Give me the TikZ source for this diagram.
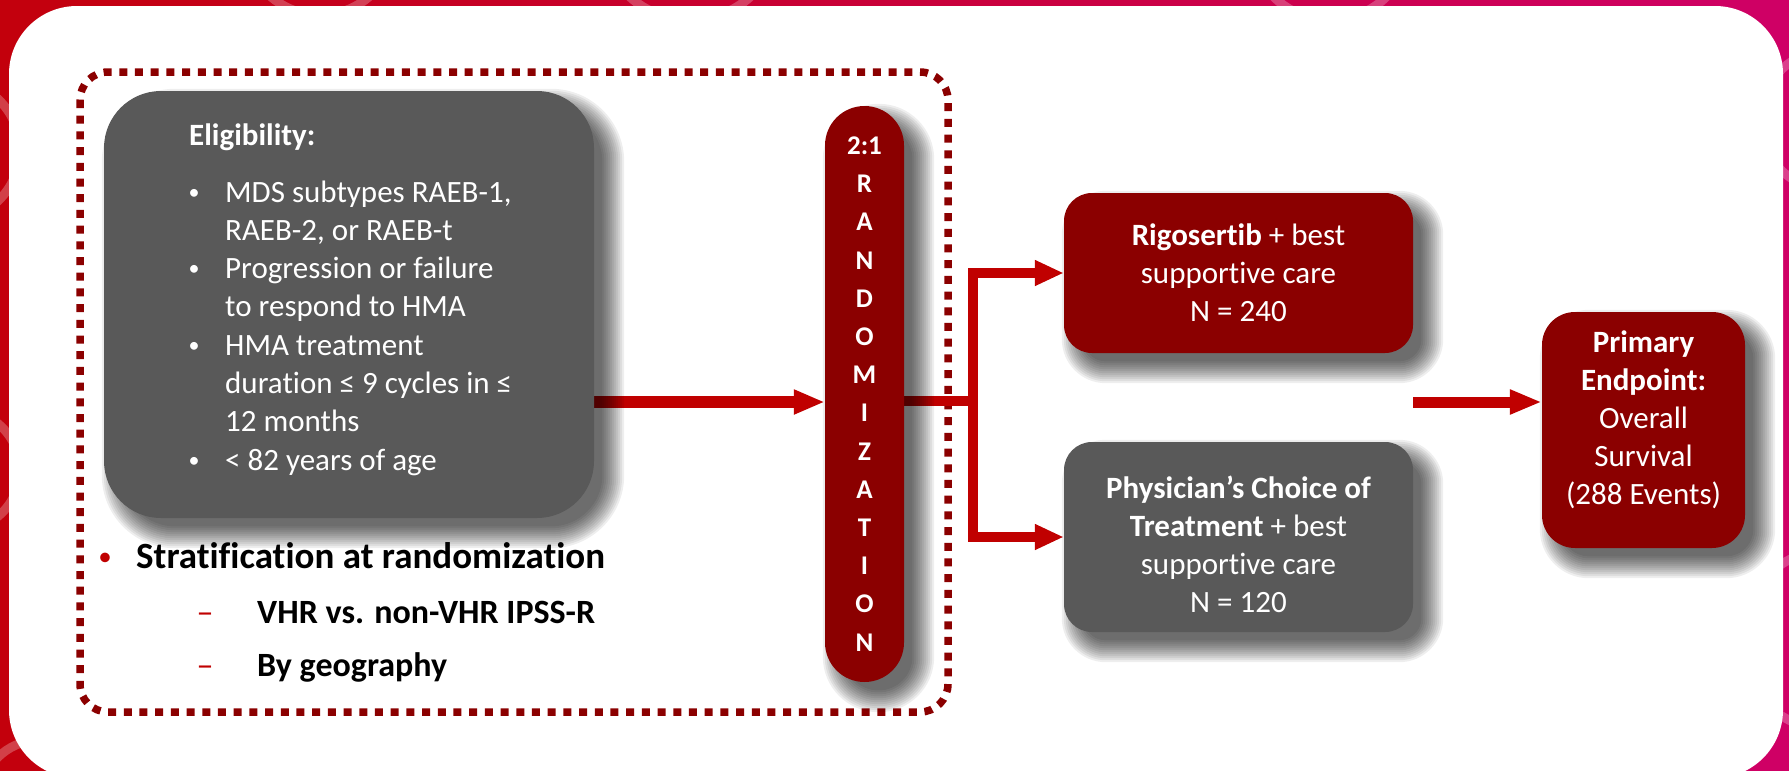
\documentclass[tikz,border=0pt]{standalone}
\usepackage{fontspec}
\setmainfont{Carlito}[Ligatures=NoCommon]
\usetikzlibrary{arrows.meta,calc}
\definecolor{dred}{HTML}{8B0000}
\definecolor{ared}{HTML}{C00000}
\definecolor{bgray}{HTML}{595959}
\definecolor{bgL}{HTML}{C3000C}
\definecolor{bgR}{HTML}{CF0066}
\pgfdeclarelayer{back}
\pgfdeclarelayer{mid}
\pgfdeclarelayer{shad}
\pgfsetlayers{back,mid,shad,main}
\newcommand\boxshadow[2]{%
  \foreach \g in {-6,-4,...,16} {%
    \pgfmathsetmacro\rr{max(#2+\g,1)}%
    \fill[black,opacity=0.065,rounded corners=\rr pt]
      ($(#1.north west)+(14-\g,14-\g)$) rectangle ($(#1.south east)+(14+\g,14+\g)$);
  }%
}
\begin{document}
\begin{tikzpicture}[x=1pt,y=-1pt,
  graybox/.style={fill=bgray,inner sep=0pt},
  redbox/.style={fill=dred,inner sep=0pt},
  boxtxt/.style={text=white,align=center,inner sep=0pt,font=\fontsize{31}{38}\selectfont},
  elig/.style={text=white,anchor=base west,inner sep=0pt,font=\fontsize{31}{38}\selectfont},
  bul/.style={text=white,anchor=base,inner sep=0pt,font=\fontsize{22}{24}\selectfont},
  strat/.style={text=black,anchor=base west,inner sep=0pt},
  pill/.style={fill=dred,inner sep=0pt,minimum width=79pt,minimum height=576pt,
    rounded corners=39.5pt,text=white,align=center,font=\fontsize{27}{38.2}\selectfont\bfseries},
  bigarrow/.style={draw=ared,line width=12pt,-{Triangle[length=31pt,width=23pt]}},
  brline/.style={draw=ared,line width=10pt},
  brarrow/.style={draw=ared,line width=10pt,-{Triangle[length=29pt,width=24pt]}},
  ring/.style={draw=white,opacity=0.25,line width=9pt},
]
\useasboundingbox (0,0) rectangle (1789,771);
\begin{pgfonlayer}{back}
  \begin{scope}
  \clip (0,0) rectangle (1789,771);
  \shade[left color=bgL,right color=bgR] (0,0) rectangle (1789,771);
  \draw[ring] (320,-60) circle (75pt);
  \draw[ring] (690,-70) circle (90pt);
  \draw[ring] (1330,-60) circle (80pt);
  \draw[ring] (-50,150) circle (70pt);
  \draw[ring] (-40,470) circle (60pt);
  \draw[ring] (40,800) circle (60pt);
  \draw[ring] (1830,640) circle (90pt);
  \draw[ring] (1830,120) circle (70pt);
  \fill[white,rounded corners=68pt] (9,6) rectangle (1783,778);
  \end{scope}
  \draw[dred,line width=7.5pt,dash pattern=on 8pt off 7.7pt,rounded corners=28pt] (80,72) rectangle (948,712);
\end{pgfonlayer}

% boxes
\node[graybox,minimum width=490pt,minimum height=427pt,rounded corners=57pt] (elig) at (349,304.5) {};
\node[pill] (rz) at (864.5,394) {2:1\\R\\A\\N\\D\\O\\M\\I\\Z\\A\\T\\I\\O\\N};
\node[redbox,minimum width=349pt,minimum height=160pt,rounded corners=28pt] (rig) at (1238.5,273) {};
\node[graybox,minimum width=349pt,minimum height=190pt,rounded corners=28pt] (phy) at (1238.5,537) {};
\node[redbox,minimum width=203pt,minimum height=236pt,rounded corners=33pt] (prim) at (1643.5,430) {};

% box texts
\node[boxtxt] (rigT) at (rig.center) {\textbf{Rigosertib} + best\\supportive care\\N = 240};
\node[boxtxt] (phyT) at ($(phy.center)+(0,7)$) {\textbf{Physician’s Choice of}\\\textbf{Treatment} + best\\supportive care\\N = 120};
\node[boxtxt] (primT) at ($(prim.center)+(0,-10)$) {\textbf{Primary}\\\textbf{Endpoint:}\\Overall\\Survival\\(288 Events)};

% eligibility text
\node[elig,font=\fontsize{31}{38}\selectfont\bfseries] (eh) at (189,145) {Eligibility:};
\node[bul] (b1) at (194,199) {•};
\node[bul] (b2) at (194,275.6) {•};
\node[bul] (b3) at (194,352.2) {•};
\node[bul] (b4) at (194,467.1) {•};
\node[elig] (l1) at (225,202) {MDS subtypes RAEB-1,};
\node[elig] (l2) at (225,240.3) {RAEB-2, or RAEB-t};
\node[elig] (l3) at (225,278.6) {Progression or failure};
\node[elig] (l4) at (225,316.9) {to respond to HMA};
\node[elig] (l5) at (225,355.2) {HMA treatment};
\node[elig] (l6) at (225,393.5) {duration ≤ 9 cycles in ≤};
\node[elig] (l7) at (225,431.8) {12 months};
\node[elig] (l8) at (225,470.1) {< 82 years of age};

% stratification
\node[strat,anchor=base,text=ared,font=\fontsize{27}{30}\selectfont] (sb) at (105,565) {•};
\node[strat,font=\fontsize{37}{40}\selectfont\bfseries] (st) at (136,568) {Stratification at randomization};
\node[strat,anchor=base,text=ared,font=\fontsize{34}{40}\selectfont] (d1) at (205,623) {–};
\node[strat,anchor=base,text=ared,font=\fontsize{34}{40}\selectfont] (d2) at (205,676) {–};
\node[strat,font=\fontsize{34}{40}\selectfont\bfseries] (s1) at (257,623) {VHR vs. non-VHR IPSS-R};
\node[strat,font=\fontsize{34}{40}\selectfont\bfseries] (s2) at (257,676) {By geography};

% shadows
\begin{pgfonlayer}{shad}
  \boxshadow{elig}{57}
  \boxshadow{rz}{39.5}
  \boxshadow{rig}{28}
  \boxshadow{phy}{28}
  \boxshadow{prim}{33}
\end{pgfonlayer}

% connectors
\coordinate (ay) at (0,402);
\coordinate (br) at (973,401);
\begin{pgfonlayer}{mid}
  \draw[bigarrow] (elig.east |- ay) -- (rz.west |- ay);
  \draw[brline] (rz.east |- br) -- (br);
  \draw[brarrow] (br) |- (rig.west);
  \draw[brarrow] (br) |- (phy.west);
  \draw[draw=ared,line width=11pt,-{Triangle[length=32pt,width=23pt]}] (rig.east |- ay) -- (prim.west |- ay);
\end{pgfonlayer}
\end{tikzpicture}
\end{document}
